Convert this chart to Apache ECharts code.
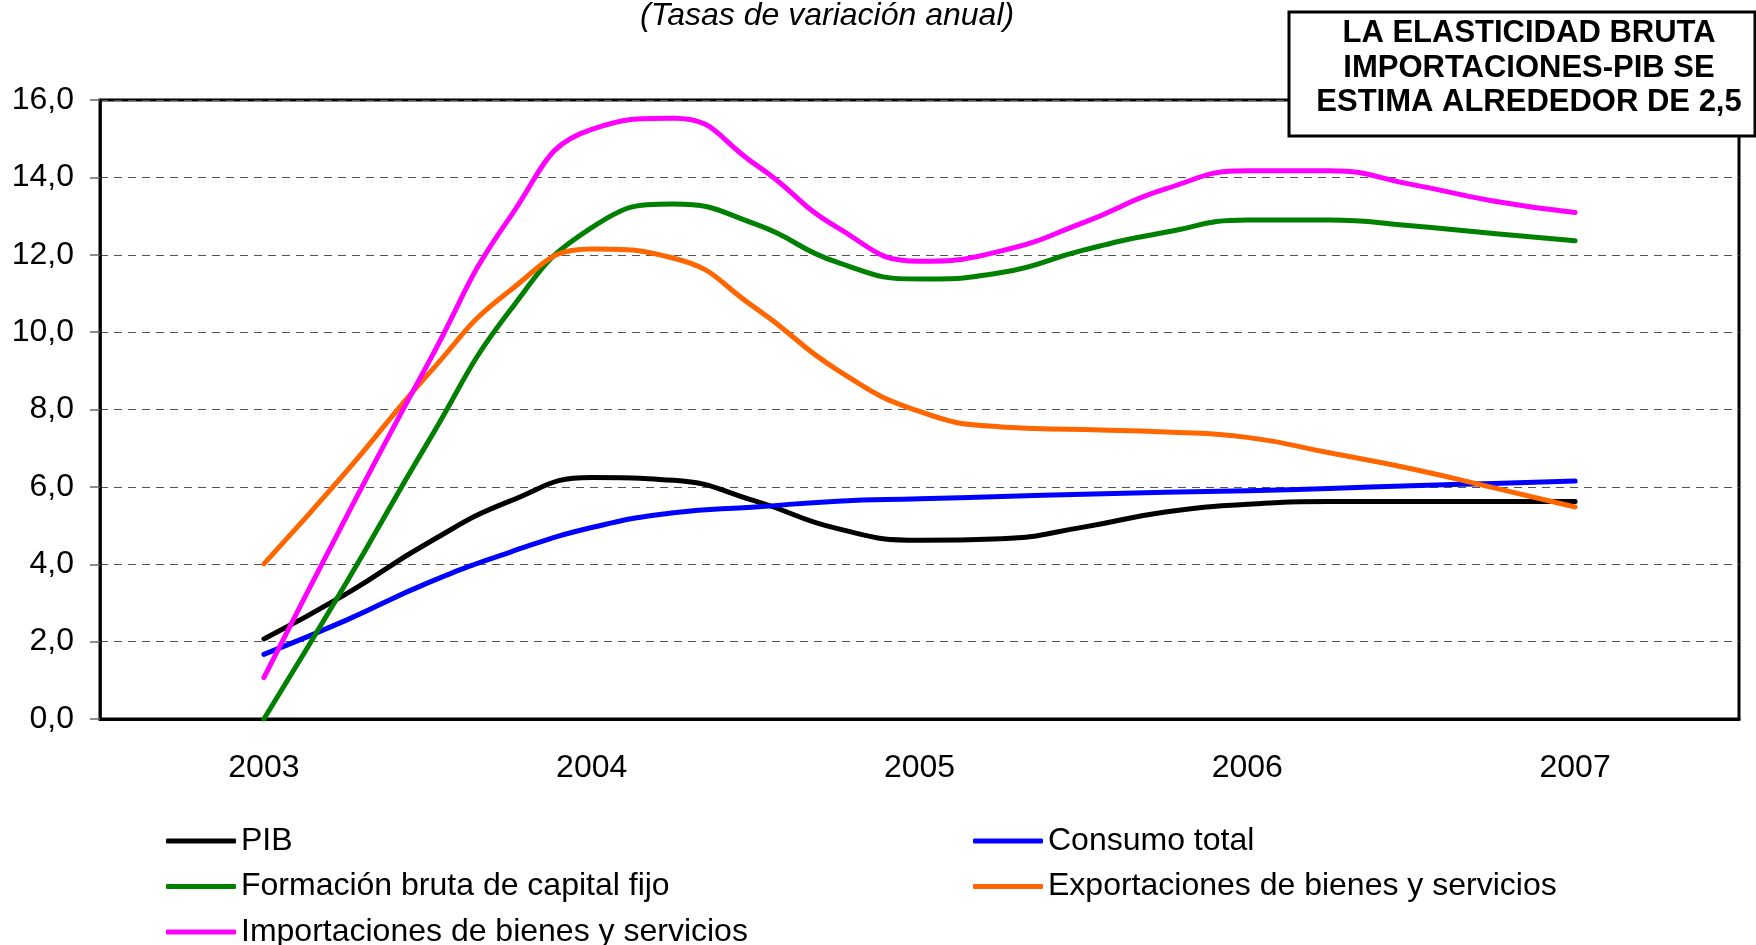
<!DOCTYPE html>
<html>
<head>
<meta charset="UTF-8">
<title></title>
<script src="https://cdn.jsdelivr.net/npm/echarts@6/dist/echarts.min.js"></script>
</head>
<body style="margin:0">
<div id="main" style="width:1756px;height:945px;"></div>
<script type="text/javascript">
// trimestres 2003-I .. 2007-I
var quarters = ['2003-I', '2003-II', '2003-III', '2003-IV', '2004-I', '2004-II', '2004-III', '2004-IV',
	'2005-I', '2005-II', '2005-III', '2005-IV', '2006-I', '2006-II', '2006-III', '2006-IV', '2007-I'];
var years = ['2003', '2004', '2005', '2006', '2007'];

var pib = [2.07, 3.23, 4.55, 5.63, 6.24, 6.17, 5.63, 4.92, 4.62, 4.66, 4.96, 5.35, 5.55, 5.62, 5.62, 5.62, 5.62];
var consumo = [1.67, 2.55, 3.52, 4.31, 4.95, 5.33, 5.48, 5.63, 5.69, 5.75, 5.81, 5.86, 5.90, 5.96, 6.03, 6.09, 6.15];
var fbcf = [0.0, 3.5, 7.15, 10.55, 12.70, 13.31, 12.79, 11.80, 11.37, 11.54, 12.12, 12.58, 12.90, 12.90, 12.75, 12.55, 12.36];
var exportaciones = [4.01, 6.38, 8.9, 11.07, 12.15, 11.91, 10.62, 9.02, 7.95, 7.55, 7.48, 7.42, 7.28, 6.88, 6.47, 5.98, 5.48];
var importaciones = [1.07, 5.2, 9.18, 12.96, 15.24, 15.53, 14.33, 12.70, 11.83, 12.10, 12.83, 13.70, 14.17, 14.17, 13.82, 13.39, 13.09];

var font = '"Liberation Sans", Arial, sans-serif';

function pts(arr) {
	return quarters.map(function (q, i) { return [i, arr[i]]; });
}

function serie(name, color, arr) {
	return {
		name: name,
		type: 'line',
		xAxisIndex: 1,
		data: pts(arr),
		color: color,
		smooth: 0.5,
		showSymbol: false,
		symbol: 'none',
		lineStyle: { width: 5, color: color, cap: 'round', join: 'round' }
	};
}

var legendText = { fontFamily: font, fontSize: 32, color: '#000', lineHeight: 32 };

function legend(left, names) {
	return {
		orient: 'vertical',
		left: left,
		top: 820,
		height: 200,
		itemGap: 13.5,
		itemWidth: 70,
		itemHeight: 5,
		icon: 'roundRect',
		textStyle: legendText,
		data: names
	};
}

option = {
	animation: false,
	backgroundColor: '#fff',
	title: {
		text: '(Tasas de variación anual)',
		left: 640,
		top: 0,
		padding: 0,
		textStyle: { fontFamily: font, fontSize: 32, fontStyle: 'italic', fontWeight: 'normal', color: '#000', lineHeight: 32 }
	},
	grid: { left: 100, right: 17, top: 100, bottom: 226, show: true, borderColor: '#000', borderWidth: 3 },
	legend: [
		legend(161, ['PIB', 'Formación bruta de capital fijo', 'Importaciones de bienes y servicios']),
		legend(968, ['Consumo total', 'Exportaciones de bienes y servicios'])
	],
	xAxis: [{
		type: 'category',
		data: years,
		boundaryGap: true,
		axisLine: { lineStyle: { color: '#000', width: 3 } },
		axisTick: { length: 10, lineStyle: { color: '#666', width: 1.5 } },
		axisLabel: { fontFamily: font, fontSize: 32, color: '#000', margin: 33 },
		splitLine: { show: false }
	}, {
		type: 'value',
		min: -2,
		max: 18,
		show: false,
		splitLine: { show: false }
	}],
	yAxis: {
		type: 'value',
		min: 0,
		max: 16,
		interval: 2,
		axisLine: { show: true, onZero: false, lineStyle: { color: '#000', width: 2.5 } },
		axisTick: { show: true, length: 10, lineStyle: { color: '#666', width: 1.5 } },
		axisLabel: {
			fontFamily: font, fontSize: 32, color: '#000', margin: 26,
			formatter: function (v) { return v.toFixed(1).replace('.', ','); }
		},
		splitLine: { lineStyle: { color: '#555', width: 1, type: [8, 6] } }
	},
	graphic: [{
		type: 'rect',
		z: 100,
		shape: { x: 1289, y: 12, width: 466, height: 124 },
		style: { fill: '#fff', stroke: '#000', lineWidth: 3 }
	}, {
		type: 'text',
		z: 101,
		x: 1529,
		y: 68,
		style: {
			text: 'LA ELASTICIDAD BRUTA\nIMPORTACIONES-PIB SE\nESTIMA ALREDEDOR DE 2,5',
			font: 'bold 31px ' + font,
			lineHeight: 34.5,
			fill: '#000',
			align: 'center',
			verticalAlign: 'middle'
		}
	}],
	series: [
		serie('PIB', '#000000', pib),
		serie('Consumo total', '#0000ff', consumo),
		serie('Formación bruta de capital fijo', '#008000', fbcf),
		serie('Exportaciones de bienes y servicios', '#ff6600', exportaciones),
		serie('Importaciones de bienes y servicios', '#ff00ff', importaciones)
	]
};

echarts.init(document.getElementById('main')).setOption(option);
</script>
</body>
</html>
